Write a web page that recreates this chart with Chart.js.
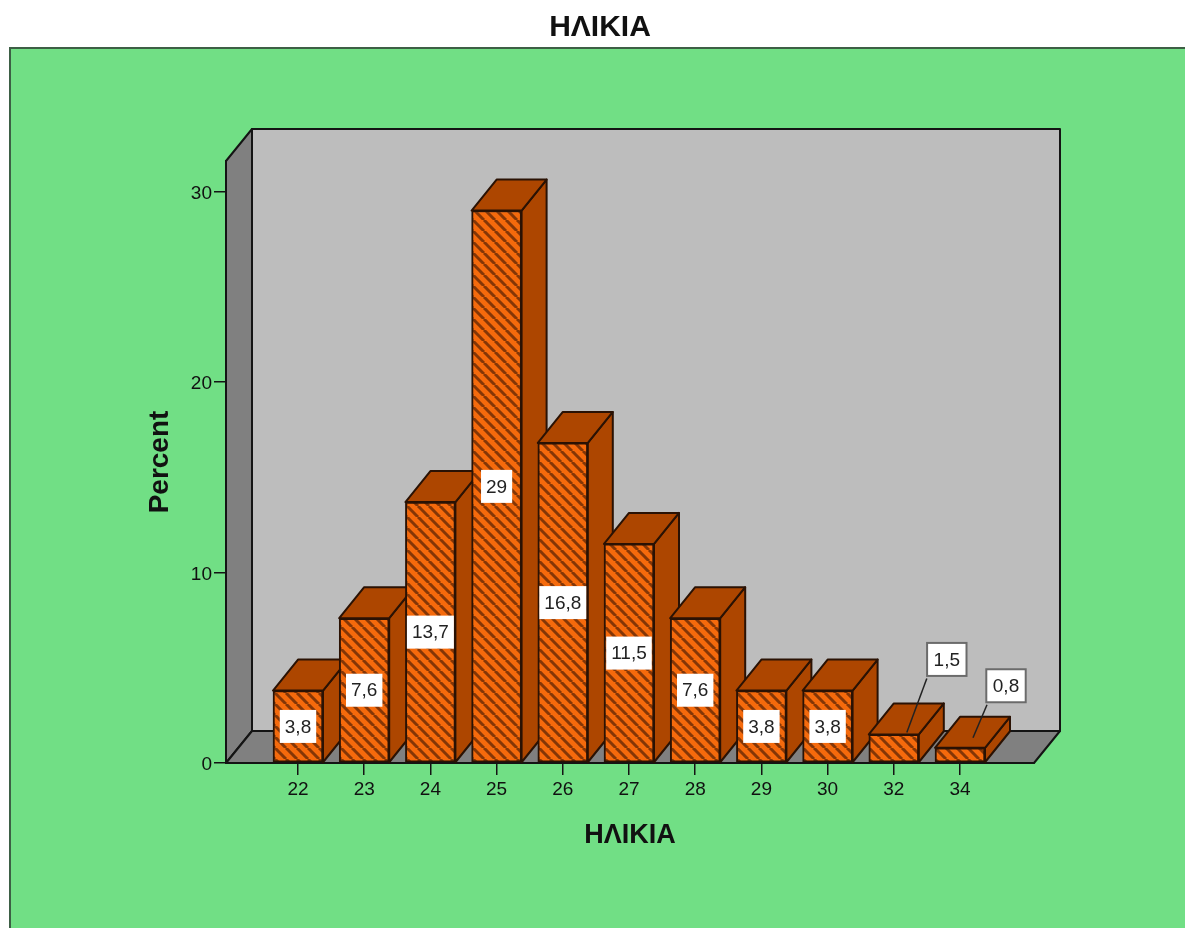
<!DOCTYPE html>
<html>
<head>
<meta charset="utf-8">
<script src="https://cdn.jsdelivr.net/npm/chart.js@4/dist/chart.umd.min.js"></script>
<style>
html, body { margin: 0; padding: 0; background: #fff; overflow: hidden; }
canvas { display: block; }
</style>
</head>
<body>
<canvas id="ages" width="1185" height="928"></canvas>
<script>
const ages = ["22", "23", "24", "25", "26", "27", "28", "29", "30", "32", "34"];
const percents = [3.8, 7.6, 13.7, 29, 16.8, 11.5, 7.6, 3.8, 3.8, 1.5, 0.8];
const yTicks = [0, 10, 20, 30];
const chartTitle = "ΗΛΙΚΙΑ";
const xTitle = "ΗΛΙΚΙΑ";
const yTitle = "Percent";

const FONT = "'Liberation Sans', Arial, sans-serif";
const INK = "#141414";
const WALL_DX = 26, WALL_DY = -32;
const BAR_DX = 25, BAR_DY = -31;

// the two small bars get their label off to the side, with a leader line
const callouts = {
    9: { label: [53, -75], from: [13, -2], to: [33, -56] },
    10: { label: [46, -62], from: [13, -10], to: [27, -43] }
};

function stripes() {
    let c = document.createElement("canvas");
    c.width = c.height = 11;
    let g = c.getContext("2d");
    g.fillStyle = "#f56a0c";
    g.fillRect(0, 0, 11, 11);
    g.strokeStyle = "#843606";
    g.lineWidth = 3;
    for (let i = -11; i <= 11; i += 11) {
        g.beginPath();
        g.moveTo(i, 0);
        g.lineTo(i + 11, 11);
        g.stroke();
    }
    return g.createPattern(c, "repeat");
}

function poly(ctx, pts, fill, stroke, width) {
    ctx.beginPath();
    pts.forEach((p, i) => i ? ctx.lineTo(p[0], p[1]) : ctx.moveTo(p[0], p[1]));
    ctx.closePath();
    ctx.fillStyle = fill;
    ctx.fill();
    ctx.strokeStyle = stroke;
    ctx.lineWidth = width;
    ctx.lineJoin = "round";
    ctx.stroke();
}

const box3d = {
    id: "box3d",
    afterLayout(chart) {
        // title is centred on the page panel, not on the plot
        chart.titleBlock.left = 15;
        chart.titleBlock.right = 1185;
    },
    beforeDraw(chart) {
        let ctx = chart.ctx, a = chart.chartArea;
        ctx.save();
        ctx.fillStyle = "#71df85";
        ctx.fillRect(10, 48, 1175, 880);
        ctx.strokeStyle = "#3d5f45";
        ctx.lineWidth = 2;
        ctx.beginPath();
        ctx.moveTo(10, 928);
        ctx.lineTo(10, 48);
        ctx.lineTo(1185, 48);
        ctx.stroke();

        let l = a.left, r = a.right, t = a.top, b = a.bottom;
        poly(ctx, [[l + WALL_DX, t + WALL_DY], [r + WALL_DX, t + WALL_DY], [r + WALL_DX, b + WALL_DY], [l + WALL_DX, b + WALL_DY]], "#bdbdbd", INK, 2);
        poly(ctx, [[l, t], [l + WALL_DX, t + WALL_DY], [l + WALL_DX, b + WALL_DY], [l, b]], "#808080", INK, 2);
        poly(ctx, [[l, b], [l + WALL_DX, b + WALL_DY], [r + WALL_DX, b + WALL_DY], [r, b]], "#808080", INK, 2);
        ctx.restore();
    },
    beforeDatasetsDraw(chart) {
        let ctx = chart.ctx;
        ctx.save();
        chart.getDatasetMeta(0).data.forEach(bar => {
            let x0 = bar.x - bar.width / 2, x1 = bar.x + bar.width / 2;
            poly(ctx, [[x1, bar.y], [x1 + BAR_DX, bar.y + BAR_DY], [x1 + BAR_DX, bar.base + BAR_DY], [x1, bar.base]], "#ad4600", "#2a1204", 2);
            poly(ctx, [[x0, bar.y], [x0 + BAR_DX, bar.y + BAR_DY], [x1 + BAR_DX, bar.y + BAR_DY], [x1, bar.y]], "#ad4600", "#2a1204", 2);
        });
        ctx.restore();
    },
    afterDatasetsDraw(chart) {
        let ctx = chart.ctx;
        ctx.save();
        ctx.font = "19px " + FONT;
        ctx.textAlign = "center";
        ctx.textBaseline = "middle";
        chart.getDatasetMeta(0).data.forEach((bar, i) => {
            let text = String(percents[i]).replace(".", ",");
            let call = callouts[i];
            let w = ctx.measureText(text).width + (call ? 13 : 10), h = 33;
            let cx = bar.x, cy = (bar.y + bar.base) / 2;
            if (call) {
                cx = bar.x + call.label[0];
                cy = bar.y + call.label[1];
                ctx.strokeStyle = "#222";
                ctx.lineWidth = 1.5;
                ctx.beginPath();
                ctx.moveTo(bar.x + call.from[0], bar.y + call.from[1]);
                ctx.lineTo(bar.x + call.to[0], bar.y + call.to[1]);
                ctx.stroke();
            }
            ctx.fillStyle = "#fff";
            ctx.fillRect(cx - w / 2, cy - h / 2, w, h);
            if (call) {
                ctx.strokeStyle = "#6b6b6b";
                ctx.lineWidth = 2;
                ctx.strokeRect(cx - w / 2, cy - h / 2, w, h);
            }
            ctx.fillStyle = "#222";
            ctx.fillText(text, cx, cy + 1);
        });
        ctx.restore();
    }
};

new Chart(document.getElementById("ages"), {
    type: "bar",
    data: {
        datasets: [{
            data: percents.map((v, i) => ({ x: i, y: v })),
            backgroundColor: stripes(),
            borderColor: "#2a1204",
            borderWidth: 2,
            borderSkipped: false,
            barThickness: 50
        }]
    },
    plugins: [box3d],
    options: {
        responsive: false,
        animation: false,
        layout: { padding: { left: 143, right: 151, top: 0, bottom: 0 } },
        plugins: {
            legend: { display: false },
            tooltip: { enabled: false },
            title: {
                display: true,
                text: chartTitle,
                color: "#111",
                font: { family: FONT, size: 30, weight: "bold" },
                padding: { top: 10, bottom: 115 }
            }
        },
        scales: {
            x: {
                type: "linear",
                offset: false,
                min: -1.0876,
                max: 11.1178,
                afterFit(scale) { scale.height = 165; },
                afterBuildTicks(scale) { scale.ticks = ages.map((a, i) => ({ value: i })); },
                grid: { offset: false, drawOnChartArea: false, color: INK, lineWidth: 1.5, tickLength: 12 },
                border: { display: true, color: INK, width: 2 },
                ticks: {
                    color: "#111",
                    font: { family: FONT, size: 19 },
                    padding: 3,
                    maxRotation: 0,
                    autoSkip: false,
                    callback: v => ages[v]
                },
                title: {
                    display: true,
                    text: xTitle,
                    color: "#111",
                    font: { family: FONT, size: 27, weight: "bold" },
                    padding: { top: 0, bottom: 76 }
                }
            },
            y: {
                min: 0,
                max: 31.6,
                afterFit(scale) { scale.width = 83; },
                afterBuildTicks(scale) { scale.ticks = yTicks.map(v => ({ value: v })); },
                grid: { drawOnChartArea: false, color: INK, lineWidth: 1.5, tickLength: 12 },
                border: { display: true, color: INK, width: 2 },
                ticks: {
                    color: "#111",
                    font: { family: FONT, size: 19 },
                    padding: 2,
                    labelOffset: 2
                },
                title: {
                    display: true,
                    text: yTitle,
                    color: "#111",
                    font: { family: FONT, size: 28, weight: "bold" },
                    padding: 0
                }
            }
        }
    }
});
</script>
</body>
</html>
